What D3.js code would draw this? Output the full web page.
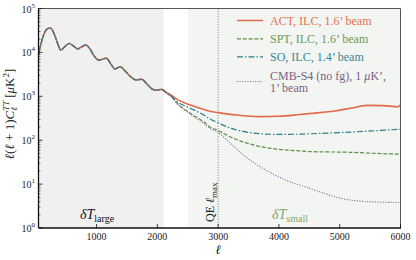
<!DOCTYPE html>
<html><head><meta charset="utf-8">
<script src="https://cdn.jsdelivr.net/npm/d3@7"></script>
<style>
html,body{margin:0;padding:0;background:#fff;}
svg{display:block;}
</style></head>
<body>
<svg id="c" width="416" height="260" font-family="'Liberation Serif','DejaVu Serif',serif"></svg>
<script>
// ---- data ----
const ellCommon = [45,80,120,160,200,232,265,300,350,413,470,550,620,690,750,824,900,960,1040,1100,1160,1230,1300,1390,1460,1560,1650,1740,1830,1920,1990,2070];
const clCommon  = [8700,14500,23000,31000,35000,36000,33500,27000,17500,11300,13200,16000,14000,12000,13300,14700,11500,8300,6700,7000,7400,5600,4200,4700,3900,2800,2350,2450,1900,1450,1380,1440];

const ellACT = [2150,2230,2320,2535,2755,2865,3000,3300,3690,4000,4345,4510,4950,5200,5443,5716,5962,6000];
const clACT  = [1230,1060,860,640,505,455,425,375,345,350,385,405,470,540,620,612,580,640];

const ellSPT = [2150,2230,2320,2535,2755,2865,3000,3193,3450,3687,4000,4345,4510,5168,5600,6000];
const clSPT  = [1180,990,710,415,268,200,165,120,88,72,62,57,55,53,50,48];

const ellSO  = [2150,2230,2320,2535,2755,2865,3000,3193,3450,3687,4000,4345,4510,5168,5600,6000];
const clSO   = [1185,1000,760,540,380,305,250,190,155,140,136,137,140,153,165,178];

const ellS4  = [2150,2230,2320,2535,2755,2865,3000,3193,3450,3687,3900,4180,4510,4670,5003,5443,6000];
const clS4   = [1180,990,690,400,245,187,150,87,42,25,17,11.3,8,6.7,4.8,4.0,3.8];

const seriesNames = ["ACT, ILC, 1.6’ beam","SPT, ILC, 1.6’ beam","SO, ILC, 1.4’ beam","CMB-S4 (no fg), 1 μK’,"];
const xTicks = [1000,2000,3000,4000,5000,6000];
const yTickExp = [0,1,2,3,4,5];
const regionLarge = [45,2100];
const regionSmall = [2500,6000];
const qeEllMax = 3000;

// ---- layout ----
const svg = d3.select("#c");
const L=38.5, R=400.5, T=8.5, B=228;
const x = d3.scaleLinear().domain([45,6000]).range([L,R]);
const y = d3.scaleLog().domain([1,1e5]).range([B,T]);

const cols = {act:"#e4694a", spt:"#5e8f47", so:"#2c7d88", s4:"#7b5a85"};
const txtCols = {act:"#e2714f", spt:"#6c9a58", so:"#3a8590", s4:"#7a6384"};

// shaded regions
svg.append("rect").attr("x",x(regionLarge[0])).attr("y",T).attr("width",x(regionLarge[1])-x(regionLarge[0])).attr("height",B-T).attr("fill","#f0f0f0");
svg.append("rect").attr("x",x(regionSmall[0])).attr("y",T).attr("width",x(regionSmall[1])-x(regionSmall[0])).attr("height",B-T).attr("fill","#f2f5f2");

// QE lmax line
svg.append("line").attr("x1",x(qeEllMax)).attr("x2",x(qeEllMax)).attr("y1",T).attr("y2",B)
  .attr("stroke","#777").attr("stroke-width",1).attr("stroke-dasharray","1,1.6");

svg.append("clipPath").attr("id","pc").append("rect").attr("x",L).attr("y",T).attr("width",R-L).attr("height",B-T);

const line = d3.line().x(d=>x(d[0])).y(d=>y(d[1])).curve(d3.curveMonotoneX);
function mk(ells, cls){
  const pts = ellCommon.map((e,i)=>[e,clCommon[i]]);
  ells.forEach((e,i)=>pts.push([e,cls[i]]));
  return pts;
}
const g = svg.append("g").attr("clip-path","url(#pc)");
g.append("path").attr("d",line(mk(ellACT,clACT))).attr("fill","none").attr("stroke",cols.act).attr("stroke-width",1.6);
g.append("path").attr("d",line(mk(ellSPT,clSPT))).attr("fill","none").attr("stroke",cols.spt).attr("stroke-width",1.2).attr("stroke-dasharray","4,1.8");
g.append("path").attr("d",line(mk(ellSO,clSO))).attr("fill","none").attr("stroke",cols.so).attr("stroke-width",1.2).attr("stroke-dasharray","6,2,1.5,2");
g.append("path").attr("d",line(mk(ellS4,clS4))).attr("fill","none").attr("stroke",cols.s4).attr("stroke-width",1.1).attr("stroke-dasharray","1,1.6");

// frame
svg.append("line").attr("x1",L).attr("x2",R).attr("y1",T).attr("y2",T).attr("stroke","#555").attr("stroke-width",1);
svg.append("line").attr("x1",R).attr("x2",R).attr("y1",T).attr("y2",B).attr("stroke","#555").attr("stroke-width",1);
svg.append("line").attr("x1",L).attr("x2",R+0.5).attr("y1",B).attr("y2",B).attr("stroke","#111").attr("stroke-width",1.3);
svg.append("line").attr("x1",L).attr("x2",L).attr("y1",T-0.5).attr("y2",B).attr("stroke","#111").attr("stroke-width",1.3);

// y ticks (inward)
yTickExp.forEach(p=>{
  const v=Math.pow(10,p);
  svg.append("line").attr("x1",L).attr("x2",L+4).attr("y1",y(v)).attr("y2",y(v)).attr("stroke","#111").attr("stroke-width",0.8);
  if(p<5){ for(let k=2;k<10;k++){ const vv=v*k;
    svg.append("line").attr("x1",L).attr("x2",L+2).attr("y1",y(vv)).attr("y2",y(vv)).attr("stroke","#111").attr("stroke-width",0.6);}}
  const t=svg.append("text").attr("x",35).attr("y",y(v)+4).attr("text-anchor","end").attr("font-size",10).attr("fill","#222");
  t.append("tspan").text("10");
  t.append("tspan").attr("font-size",7).attr("dy",-5).text(p);
});
// x ticks
xTicks.forEach(v=>{
  svg.append("line").attr("x1",x(v)).attr("x2",x(v)).attr("y1",B).attr("y2",B-4).attr("stroke","#111").attr("stroke-width",0.8);
  svg.append("text").attr("x",x(v)).attr("y",240).attr("text-anchor","middle").attr("font-size",10).attr("fill","#222").text(v);
});
// x label
svg.append("text").attr("x",x(3000)).attr("y",254).attr("text-anchor","middle").attr("font-size",13).attr("font-style","italic").attr("fill","#222").text("ℓ");
// y label
const yl=svg.append("text").attr("transform","translate(14,114) rotate(-90)").attr("text-anchor","middle").attr("font-size",13).attr("fill","#222");
yl.append("tspan").attr("font-style","italic").text("ℓ");
yl.append("tspan").text("(");
yl.append("tspan").attr("font-style","italic").text("ℓ");
yl.append("tspan").text(" + 1)");
yl.append("tspan").attr("font-style","italic").text("C");
yl.append("tspan").attr("font-style","italic").attr("font-size",9).attr("dy",-5).text("TT");
yl.append("tspan").attr("font-style","italic").attr("font-size",9).attr("dx",-10).attr("dy",8).text("ℓ");
yl.append("tspan").attr("dy",-3).attr("dx",6).text(" [");
yl.append("tspan").attr("font-style","italic").text("μ");
yl.append("tspan").text("K");
yl.append("tspan").attr("font-size",9).attr("dy",-5).text("2");
yl.append("tspan").attr("dy",5).text("]");

// region labels
const tl=svg.append("text").attr("x",80).attr("y",219).attr("font-size",14).attr("fill","#111");
tl.append("tspan").attr("font-style","italic").text("δT");
tl.append("tspan").attr("font-size",10).attr("dy",3).text("large");
const ts=svg.append("text").attr("x",272).attr("y",219).attr("font-size",14).attr("fill","#7fa56f");
ts.append("tspan").attr("font-style","italic").text("δT");
ts.append("tspan").attr("font-size",10).attr("dy",3).text("small");
const qe=svg.append("text").attr("transform",`translate(${x(qeEllMax)-4},222) rotate(-90)`).attr("font-size",12).attr("fill","#222");
qe.append("tspan").text("QE ");
qe.append("tspan").attr("font-style","italic").text("ℓ");
qe.append("tspan").attr("font-size",9).attr("dy",3).text("max");

// legend
const lx0=237, lx1=263, tx=270;
const leg=[
 {y:20.5,c:cols.act,tc:txtCols.act,w:1.5,da:null,t:seriesNames[0]},
 {y:38.8,c:cols.spt,tc:txtCols.spt,w:1.2,da:"4,1.8",t:seriesNames[1]},
 {y:56.8,c:cols.so,tc:txtCols.so,w:1.2,da:"6,2,1.5,2",t:seriesNames[2]},
];
leg.forEach(d=>{
  svg.append("line").attr("x1",lx0).attr("x2",lx1).attr("y1",d.y).attr("y2",d.y).attr("stroke",d.c).attr("stroke-width",d.w).attr("stroke-dasharray",d.da);
  svg.append("text").attr("x",tx).attr("y",d.y+4).attr("font-size",12).attr("fill",d.tc).text(d.t);
});
svg.append("line").attr("x1",lx0).attr("x2",lx1).attr("y1",81.5).attr("y2",81.5).attr("stroke",cols.s4).attr("stroke-width",1.1).attr("stroke-dasharray","1,1.6");
const l4=svg.append("text").attr("x",tx).attr("y",79.5).attr("font-size",12).attr("fill",txtCols.s4);
l4.append("tspan").text("CMB-S4 (no fg), 1 ");
l4.append("tspan").attr("font-style","italic").text("μ");
l4.append("tspan").text("K’,");
svg.append("text").attr("x",tx).attr("y",92).attr("font-size",12).attr("fill",txtCols.s4).text("1’ beam");
</script>
</body></html>
